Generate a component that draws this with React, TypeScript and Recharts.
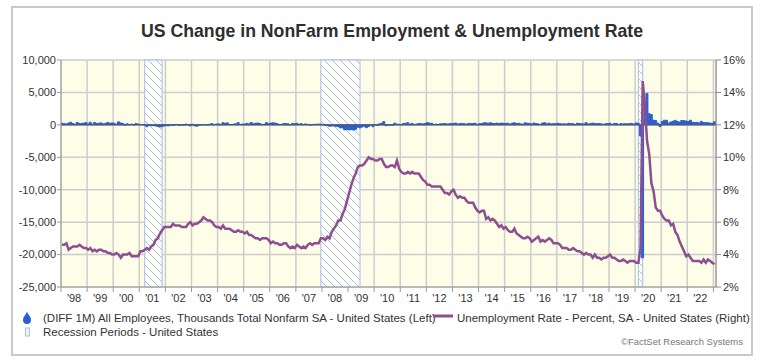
import React from 'react';
import {
  ComposedChart,
  Bar,
  Line,
  XAxis,
  YAxis,
  CartesianGrid,
  ReferenceArea,
  ReferenceLine,
} from 'recharts';

// ---------- DATA ----------
const START_YEAR = 1998; // first month: Jan 1998, monthly through Jan 2023

// Unemployment Rate - Percent, SA - United States (Right axis)
const unemploymentRate = [
  4.6, 4.6, 4.7, 4.3, 4.4, 4.5, 4.5, 4.5, 4.6, 4.5, 4.4, 4.4, // 1998
  4.3, 4.4, 4.2, 4.3, 4.2, 4.3, 4.3, 4.2, 4.2, 4.1, 4.1, 4.0, // 1999
  4.0, 4.1, 4.0, 3.8, 4.0, 4.0, 4.0, 4.1, 3.9, 3.9, 3.9, 3.9, // 2000
  4.2, 4.2, 4.3, 4.4, 4.3, 4.5, 4.6, 4.9, 5.0, 5.3, 5.5, 5.7, // 2001
  5.7, 5.7, 5.7, 5.9, 5.8, 5.8, 5.8, 5.7, 5.7, 5.7, 5.9, 6.0, // 2002
  5.8, 5.9, 5.9, 6.0, 6.1, 6.3, 6.2, 6.1, 6.1, 6.0, 5.8, 5.7, // 2003
  5.7, 5.6, 5.8, 5.6, 5.6, 5.6, 5.5, 5.4, 5.4, 5.5, 5.4, 5.4, // 2004
  5.3, 5.4, 5.2, 5.2, 5.1, 5.0, 5.0, 4.9, 5.0, 5.0, 5.0, 4.9, // 2005
  4.7, 4.8, 4.7, 4.7, 4.6, 4.6, 4.7, 4.7, 4.5, 4.4, 4.5, 4.4, // 2006
  4.6, 4.5, 4.4, 4.5, 4.4, 4.6, 4.7, 4.6, 4.7, 4.7, 4.7, 5.0, // 2007
  5.0, 4.9, 5.1, 5.0, 5.4, 5.6, 5.8, 6.1, 6.1, 6.5, 6.8, 7.3, // 2008
  7.8, 8.3, 8.7, 9.0, 9.4, 9.5, 9.5, 9.6, 9.8, 10.0, 9.9, 9.9, // 2009
  9.8, 9.8, 9.9, 9.9, 9.6, 9.4, 9.4, 9.5, 9.5, 9.4, 9.8, 9.3, // 2010
  9.1, 9.0, 9.0, 9.1, 9.0, 9.1, 9.0, 9.0, 9.0, 8.8, 8.6, 8.5, // 2011
  8.3, 8.3, 8.2, 8.2, 8.2, 8.2, 8.2, 8.0, 7.8, 7.8, 7.7, 7.9, // 2012
  8.0, 7.7, 7.5, 7.6, 7.5, 7.5, 7.3, 7.2, 7.2, 7.2, 6.9, 6.7, // 2013
  6.6, 6.7, 6.7, 6.2, 6.3, 6.1, 6.2, 6.1, 5.9, 5.7, 5.8, 5.6, // 2014
  5.7, 5.5, 5.4, 5.4, 5.6, 5.3, 5.2, 5.1, 5.0, 5.0, 5.1, 5.0, // 2015
  4.8, 4.9, 5.0, 5.1, 4.8, 4.9, 4.8, 4.9, 5.0, 4.9, 4.7, 4.7, // 2016
  4.7, 4.6, 4.4, 4.4, 4.4, 4.3, 4.3, 4.4, 4.3, 4.2, 4.2, 4.1, // 2017
  4.0, 4.1, 4.0, 4.0, 3.8, 4.0, 3.8, 3.8, 3.7, 3.8, 3.8, 3.9, // 2018
  4.0, 3.8, 3.8, 3.7, 3.6, 3.6, 3.7, 3.6, 3.5, 3.6, 3.6, 3.6, // 2019
  3.5, 3.5, 4.4, 14.7, 13.2, 11.0, 10.2, 8.4, 7.9, 6.9, 6.7, 6.7, // 2020
  6.4, 6.2, 6.1, 6.1, 5.8, 5.9, 5.4, 5.2, 4.8, 4.5, 4.2, 3.9, // 2021
  4.0, 3.8, 3.6, 3.6, 3.6, 3.6, 3.5, 3.7, 3.5, 3.7, 3.6, 3.5, // 2022
  3.4, // 2023
];

// (DIFF 1M) All Employees, Thousands Total Nonfarm SA - United States (Left axis)
const payrollChange = [
  256, 187, 141, 270, 400, 209, 95, 372, 217, 198, 284, 342, // 1998
  150, 404, 98, 366, 213, 261, 299, 161, 220, 382, 263, 298, // 1999
  254, 113, 466, 287, 223, -46, 164, 1, 121, -6, 211, 127, // 2000
  42, 69, -29, -281, -44, -127, -125, -160, -246, -325, -293, -177, // 2001
  -134, -146, -25, -86, -8, 44, -98, -1, -57, 124, 9, -155, // 2002
  88, -155, -212, -49, -9, 1, 26, -44, 105, 195, 13, 117, // 2003
  160, 42, 331, 250, 311, 77, 40, 120, 157, 349, 63, 129, // 2004
  133, 240, 135, 363, 171, 244, 285, 198, 66, 84, 334, 158, // 2005
  277, 316, 284, 182, 22, 77, 207, 183, 157, 2, 210, 171, // 2006
  236, 90, 187, 43, 145, 78, -31, -16, 83, 82, 117, 96, // 2007
  14, -85, -79, -215, -186, -169, -216, -270, -459, -473, -770, -695, // 2008
  -783, -743, -800, -695, -351, -470, -329, -212, -439, -256, 6, -283, // 2009
  16, -89, 160, 246, 511, -123, -64, -31, -62, 262, 127, 88, // 2010
  42, 188, 241, 327, 110, 232, 68, 107, 213, 179, 149, 203, // 2011
  353, 263, 239, 75, 115, 79, 154, 175, 202, 139, 151, 221, // 2012
  193, 281, 139, 193, 227, 176, 101, 230, 188, 207, 255, 60, // 2013
  186, 187, 309, 320, 233, 325, 244, 215, 269, 202, 279, 252, // 2014
  211, 266, 114, 258, 323, 212, 252, 141, 113, 315, 263, 233, // 2015
  125, 287, 209, 156, 48, 286, 336, 155, 256, 144, 182, 185, // 2016
  247, 170, 146, 159, 129, 241, 176, 178, 13, 257, 193, 171, // 2017
  140, 342, 135, 196, 266, 234, 167, 199, 162, 71, 170, 197, // 2018
  256, 33, 220, 221, 70, 189, 141, 174, 154, 187, 225, 111, // 2019
  284, 264, -1683, -20500, 2833, 4846, 1726, 1583, 716, 680, 263, -268, // 2020
  520, 710, 704, 263, 447, 557, 689, 517, 424, 677, 647, 588, // 2021
  504, 714, 398, 368, 386, 293, 537, 352, 350, 324, 290, 239, // 2022
  472, // 2023
];

// Recession Periods - United States (year-month)
const recessionStart = ['2001-03', '2007-12', '2020-02'];
const recessionEnd = ['2001-11', '2009-06', '2020-04'];

const yearTicks = [
  1998, 1999, 2000, 2001, 2002, 2003, 2004, 2005, 2006, 2007, 2008, 2009, 2010,
  2011, 2012, 2013, 2014, 2015, 2016, 2017, 2018, 2019, 2020, 2021, 2022, 2023,
];
const leftTicks = [-25000, -20000, -15000, -10000, -5000, 0, 5000, 10000];
const rightTicks = [2, 4, 6, 8, 10, 12, 14, 16];

// ---------- LAYOUT / STYLE ----------
const X_MIN = 1998;
const X_MAX = 2023.1;
const W = 760;
const H = 364;
const LEFT_AXIS_W = 61;
const RIGHT_AXIS_W = 44;
const PLOT_W = W - LEFT_AXIS_W - RIGHT_AXIS_W;
const HALF_YEAR_PX = PLOT_W / (X_MAX - X_MIN) / 2;
const FONT = '"Liberation Sans", Arial, Helvetica, sans-serif';
const TEXT = '#333';
const BLUE = '#2b5fd0';
const PURPLE = '#8d4f8f';
const REC = '#a7bcef';

const monthT = (i: number) => START_YEAR + (i + 0.5) / 12;
const ymT = (s: string) => {
  const [y, m] = s.split('-').map(Number);
  return y + (m - 0.5) / 12;
};

const data = unemploymentRate.map((rate, i) => ({
  t: monthT(i),
  rate,
  payroll: payrollChange[i],
}));

const YearTick = (props: any) => {
  const { x, y, payload } = props;
  const yr = payload.value as number;
  if (yr >= 2023) return <g />;
  return (
    <text
      x={x + HALF_YEAR_PX}
      y={y}
      dy="0.71em"
      textAnchor="middle"
      fontSize={11}
      fontFamily={FONT}
      fill={TEXT}
    >
      {"'" + String(yr).slice(2)}
    </text>
  );
};

const fmtThousands = (v: number) => v.toLocaleString('en-US');

export default function App() {
  const S = 8;
  return (
    <div
      style={{
        position: 'absolute',
        left: 0,
        top: 0,
        width: W,
        height: H,
        background: '#fff',
        fontFamily: FONT,
      }}
    >
      <div
        style={{
          position: 'absolute',
          left: 11,
          top: 6,
          width: 742,
          height: 350,
          border: '2px solid #c9c9c9',
          boxSizing: 'border-box',
        }}
      />
      <svg
        width={W}
        height={50}
        style={{ position: 'absolute', left: 0, top: 0 }}
      >
        <text
          x={392}
          y={37}
          textAnchor="middle"
          fontSize={19}
          fontWeight="bold"
          fontFamily={FONT}
          fill="#2e2e2e"
          textLength={502}
          lengthAdjust="spacingAndGlyphs"
        >
          US Change in NonFarm Employment &amp; Unemployment Rate
        </text>
      </svg>
      <div style={{ position: 'absolute', left: 0, top: 0 }}>
        <ComposedChart
          width={W}
          height={H}
          data={data}
          margin={{ top: 60, right: 0, left: 0, bottom: 57 }}
        >
          <defs>
            <pattern
              id="hatch"
              patternUnits="userSpaceOnUse"
              width={S}
              height={S}
            >
              <rect width={S} height={S} fill="#fdfdf3" />
              <path
                d={`M-2,-2 L${S + 2},${S + 2} M${S - 2},-2 L${S + 2},2 M-2,${S - 2} L2,${S + 2}`}
                stroke={REC}
                strokeWidth={1}
              />
            </pattern>
          </defs>
          <CartesianGrid
            xAxisId="x"
            yAxisId="left"
            stroke="#cdcdcd"
            strokeWidth={1.5}
            fill="#fdfde8"
            fillOpacity={1}
          />
          <XAxis
            xAxisId="x"
            dataKey="t"
            type="number"
            domain={[X_MIN, X_MAX]}
            allowDataOverflow
            ticks={yearTicks}
            interval={0}
            tick={<YearTick />}
            tickSize={5}
            tickMargin={2}
            height={20}
            stroke="#9a9a9a"
          />
          <YAxis
            yAxisId="left"
            orientation="left"
            domain={[-25000, 10000]}
            ticks={leftTicks}
            interval={0}
            width={LEFT_AXIS_W}
            tickFormatter={fmtThousands}
            tickSize={4}
            tickMargin={1}
            stroke="#9a9a9a"
            tick={{ fontSize: 11, fill: TEXT, fontFamily: FONT }}
          />
          <YAxis
            yAxisId="right"
            orientation="right"
            domain={[2, 16]}
            ticks={rightTicks}
            interval={0}
            width={RIGHT_AXIS_W}
            tickFormatter={(v: number) => `${v}%`}
            tickSize={5}
            tickMargin={2}
            stroke="#8a8a8a"
            tick={{ fontSize: 11, fill: TEXT, fontFamily: FONT }}
          />
          {recessionStart.map((s, i) => (
            <ReferenceArea
              key={s}
              xAxisId="x"
              yAxisId="left"
              x1={ymT(s)}
              x2={ymT(recessionEnd[i])}
              fill="url(#hatch)"
              fillOpacity={1}
              stroke={REC}
              strokeWidth={1}
            />
          ))}
          <Bar
            xAxisId="x"
            yAxisId="left"
            dataKey="payroll"
            fill={BLUE}
            stroke={BLUE}
            strokeWidth={1}
            barSize={3}
            isAnimationActive={false}
          />
          <ReferenceLine
            xAxisId="x"
            yAxisId="left"
            y={0}
            stroke="#555"
            strokeWidth={1}
          />
          <Line
            xAxisId="x"
            yAxisId="right"
            dataKey="rate"
            type="linear"
            stroke={PURPLE}
            strokeWidth={2.5}
            dot={false}
            isAnimationActive={false}
          />
        </ComposedChart>
      </div>
      {/* Legend */}
      <svg
        width={W}
        height={H}
        style={{ position: 'absolute', left: 0, top: 0, pointerEvents: 'none' }}
      >
        <path
          d="M27,311 C27,314 31,316 31,320 A4,4 0 0 1 23,320 C23,316 27,314 27,311 Z"
          fill={BLUE}
        />
        <rect x={25.5} y={328} width={4} height={8} fill="#eef2ff" stroke={REC} strokeWidth={1} />
        <text x={43} y={322} fontSize={11.5} fontFamily={FONT} fill={TEXT}>
          (DIFF 1M) All Employees, Thousands Total Nonfarm SA - United States (Left)
        </text>
        <line x1={433} y1={316} x2={453} y2={316} stroke={PURPLE} strokeWidth={3} />
        <text x={457} y={322} fontSize={11.5} fontFamily={FONT} fill={TEXT}>
          Unemployment Rate - Percent, SA - United States (Right)
        </text>
        <text x={43} y={336} fontSize={11.5} fontFamily={FONT} fill={TEXT}>
          Recession Periods - United States
        </text>
        <text
          x={743}
          y={344.5}
          textAnchor="end"
          fontSize={9.5}
          fontFamily={FONT}
          fill="#777"
        >
          ©FactSet Research Systems
        </text>
      </svg>
    </div>
  );
}
